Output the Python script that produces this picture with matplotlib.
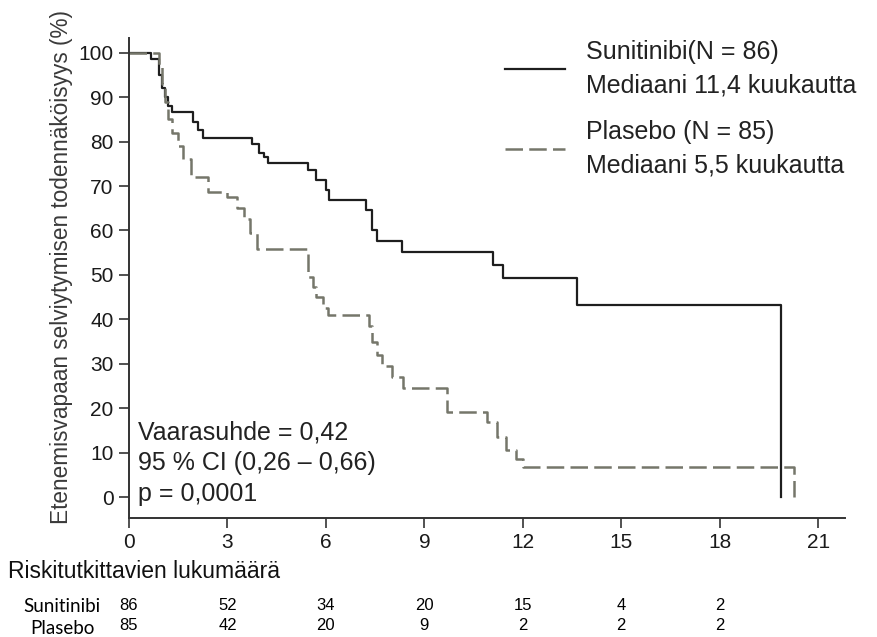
import matplotlib
matplotlib.use("Agg")
import matplotlib.pyplot as plt
import matplotlib.transforms as mtransforms

# ── Data ────────────────────────────────────────────────────────────────────
suni_t = [0, 0.67, 0.9, 1.0, 1.1, 1.2, 1.3, 1.95, 2.1, 2.26, 3.75, 3.95, 4.1,
          4.24, 5.46, 5.7, 6.0, 6.1, 7.22, 7.4, 7.55, 8.32, 11.1, 11.4, 13.65,
          19.88]
suni_s = [100, 98.5, 95, 92, 90, 88, 86.7, 84.5, 82.7, 80.9, 79.5, 77.5, 76.5,
          75.2, 73.5, 71.4, 69, 66.9, 64.6, 60.1, 57.7, 55.2, 52.3, 49.3, 43.2,
          0]

plac_t = [0, 0.9, 1.0, 1.1, 1.2, 1.3, 1.5, 1.65, 1.9, 2.4, 3.0, 3.3, 3.5, 3.7,
          3.9, 5.46, 5.6, 5.7, 5.9, 6.05, 7.3, 7.4, 7.55, 7.7, 8.0, 8.35, 9.7,
          10.9, 11.2, 11.5, 11.8, 12.0, 20.27]
plac_s = [100, 97, 93, 89, 85, 82, 79, 76, 72, 68.7, 67.6, 65, 62.5, 59.5,
          55.9, 49.5, 47.3, 45, 42.5, 41, 38.5, 35, 32, 29.6, 27.1, 24.5, 19.1,
          17, 13.5, 10.5, 8.5, 6.8, 0]

risk_times = [0, 3, 6, 9, 12, 15, 18]
risk_suni = [86, 52, 34, 20, 15, 4, 2]
risk_plac = [85, 42, 20, 9, 2, 2, 2]

x_ticks = [0, 3, 6, 9, 12, 15, 18, 21]
y_ticks = [0, 10, 20, 30, 40, 50, 60, 70, 80, 90, 100]

plt.rcParams["font.family"] = "Liberation Sans"

fig = plt.figure(figsize=(8.78, 6.37), dpi=100)
ax = fig.add_axes([129 / 878, 1 - 518 / 637, (845 - 129) / 878, (518 - 38) / 637])

ax.step(suni_t, suni_s, where="post", color="#1e1e1e", lw=1.6,
        label="Sunitinibi(N = 86)\nMediaani 11,4 kuukautta")
ax.step(plac_t, plac_s, where="post", color="#75766a", lw=1.8,
        dashes=(7, 2.5), label="Plasebo (N = 85)\nMediaani 5,5 kuukautta")

ax.set_xlim(0, 21.82)
ax.set_ylim(-4.7, 103.3)
ax.set_xticks(x_ticks)
ax.set_yticks(y_ticks)
for side in ("top", "right"):
    ax.spines[side].set_visible(False)
for side in ("left", "bottom"):
    ax.spines[side].set_linewidth(1.4)
    ax.spines[side].set_color("#333333")
ax.tick_params(direction="out", length=7, width=1.2, color="#333333",
               labelsize=15, pad=4, labelcolor="#1a1a1a")

ax.set_ylabel("Etenemisvapaan selviytymisen todennäköisyys (%)",
              fontsize=16.3, color="#3a3a3a")
ax.yaxis.set_label_coords((73 - 129) / 716, (518 - 267) / 480)

ax.text(0.27, 14.6, "Vaarasuhde = 0,42", fontsize=18, va="center", color="#222222")
ax.text(0.27, 7.6, "95 % CI (0,26 – 0,66)", fontsize=18, va="center", color="#222222")
ax.text(0.27, 0.6, "p = 0,0001", fontsize=18, va="center", color="#222222")

leg = ax.legend(loc="upper left", bbox_to_anchor=(505 / 878, 1 - 40 / 637),
                bbox_transform=fig.transFigure, frameon=False, fontsize=18,
                handlelength=2.4, handletextpad=0.85, labelspacing=0.92,
                borderpad=0, borderaxespad=0)
for t in leg.get_texts():
    t.set_linespacing(1.48)
    t.set_color("#222222")

# ── Number at risk table ────────────────────────────────────────────────────
trans = mtransforms.blended_transform_factory(ax.transData, fig.transFigure)
fig.text(8 / 878, 1 - 572 / 637, "Riskitutkittavien lukumäärä", fontsize=16.5,
         va="center", ha="left", color="#111111")
fig.text(62 / 878, 1 - 606 / 637, "Sunitinibi", fontsize=13.5, family="Lato",
         va="center", ha="center")
fig.text(62 / 878, 1 - 628 / 637, "Plasebo", fontsize=13.5, family="Lato",
         va="center", ha="center")
for t, n1, n2 in zip(risk_times, risk_suni, risk_plac):
    ax.text(t, 1 - 606 / 637, str(n1), transform=trans, fontsize=12,
            ha="center", va="center")
    ax.text(t, 1 - 626 / 637, str(n2), transform=trans, fontsize=12,
            ha="center", va="center")

fig.savefig("out.png", dpi=100)
